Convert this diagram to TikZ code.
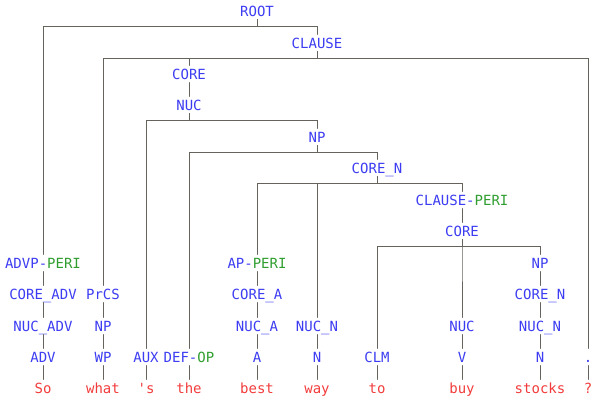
\documentclass[tikz,border=0pt]{standalone}
\usepackage{fontspec}
\newfontfamily\treefont{DejaVu Sans Mono}
\definecolor{rrgblue}{HTML}{3C3CF2}
\definecolor{rrggreen}{HTML}{2F9E2F}
\definecolor{rrgred}{HTML}{F23C3C}
\definecolor{rrgline}{HTML}{66625C}
\tikzset{
  rrg cat/.style={text=rrgblue, font=\treefont\fontsize{14pt}{16pt}\selectfont,
    inner sep=0pt, outer sep=3.5pt, text height=10.2pt, text depth=0pt},
  rrg word/.style={rrg cat, text=rrgred},
  rrg branch/.style={draw=rrgline, line width=0.8pt},
  rrg elbow/.style={to path={(\tikztostart) -- ++(0,7) -| (\tikztotarget)}},
}
\newcommand{\rrgperi}[1]{#1-{\color{rrggreen}PERI}}

\begin{document}
\begin{tikzpicture}[x=1pt, y=-1pt, line cap=round]
  \useasboundingbox (0,0) rectangle (594,396);

  % clause spine
  \node[rrg cat] (root)   at (257,11)  {ROOT};
  \node[rrg cat] (clause) at (317,43)  {CLAUSE};
  \node[rrg cat] (core)   at (189,74)  {CORE};
  \node[rrg cat] (nuc)    at (189,105) {NUC};
  \node[rrg cat] (np)     at (317,137) {NP};
  \node[rrg cat] (coren)  at (377,168) {CORE\_N};
  \node[rrg cat] (clperi) at (462,200) {\rrgperi{CLAUSE}};
  \node[rrg cat] (core2)  at (462,231) {CORE};

  % phrase levels
  \node[rrg cat] (advp)    at (43,263)  {\rrgperi{ADVP}};
  \node[rrg cat] (apperi)  at (257,263) {\rrgperi{AP}};
  \node[rrg cat] (np2)     at (540,263) {NP};
  \node[rrg cat] (coreadv) at (43,294)  {CORE\_ADV};
  \node[rrg cat] (prcs)    at (103,294) {PrCS};
  \node[rrg cat] (corea)   at (257,294) {CORE\_A};
  \node[rrg cat] (coren2)  at (540,294) {CORE\_N};
  \node[rrg cat] (nucadv)  at (43,326)  {NUC\_ADV};
  \node[rrg cat] (np1)     at (103,326) {NP};
  \node[rrg cat] (nuca)    at (257,326) {NUC\_A};
  \node[rrg cat] (nucn)    at (317,326) {NUC\_N};
  \node[rrg cat] (nuc2)    at (462,326) {NUC};
  \node[rrg cat] (nucn2)   at (540,326) {NUC\_N};

  % parts of speech
  \node[rrg cat] (adv)   at (43,357)  {ADV};
  \node[rrg cat] (wp)    at (103,357) {WP};
  \node[rrg cat] (aux)   at (146,357) {AUX};
  \node[rrg cat] (defop) at (189,357) {DEF-{\color{rrggreen}OP}};
  \node[rrg cat] (a)     at (257,357) {A};
  \node[rrg cat] (n)     at (317,357) {N};
  \node[rrg cat] (clm)   at (377,357) {CLM};
  \node[rrg cat] (v)     at (462,357) {V};
  \node[rrg cat] (n2)    at (540,357) {N};
  \node[rrg cat] (punct) at (588,357) {.};

  % words
  \node[rrg word] (so)     at (43,388)  {So};
  \node[rrg word] (what)   at (103,388) {what};
  \node[rrg word] (s)      at (146,388) {\textquotesingle s};
  \node[rrg word] (the)    at (189,388) {the};
  \node[rrg word] (best)   at (257,388) {best};
  \node[rrg word] (way)    at (317,388) {way};
  \node[rrg word] (to)     at (377,388) {to};
  \node[rrg word] (buy)    at (462,388) {buy};
  \node[rrg word] (stocks) at (540,388) {stocks};
  \node[rrg word] (qm)     at (588,388) {?};

  % branching nodes
  \foreach \u/\v in {root/advp, root/clause, clause/prcs, clause/core, clause/punct,
      nuc/aux, nuc/np, np/defop, np/coren, coren/apperi, coren/nucn, coren/clperi,
      core2/clm, core2/nuc2, core2/np2}
    \draw[rrg branch] (\u.south) to[rrg elbow] (\v.north);

  % unary chains
  \foreach \u/\v in {core/nuc, clperi/core2,
      advp/coreadv, coreadv/nucadv, nucadv/adv, adv/so,
      prcs/np1, np1/wp, wp/what, aux/s, defop/the,
      apperi/corea, corea/nuca, nuca/a, a/best,
      nucn/n, n/way, clm/to, nuc2/v, v/buy,
      np2/coren2, coren2/nucn2, nucn2/n2, n2/stocks, punct/qm}
    \draw[rrg branch] (\u) -- (\v);
\end{tikzpicture}
\end{document}
